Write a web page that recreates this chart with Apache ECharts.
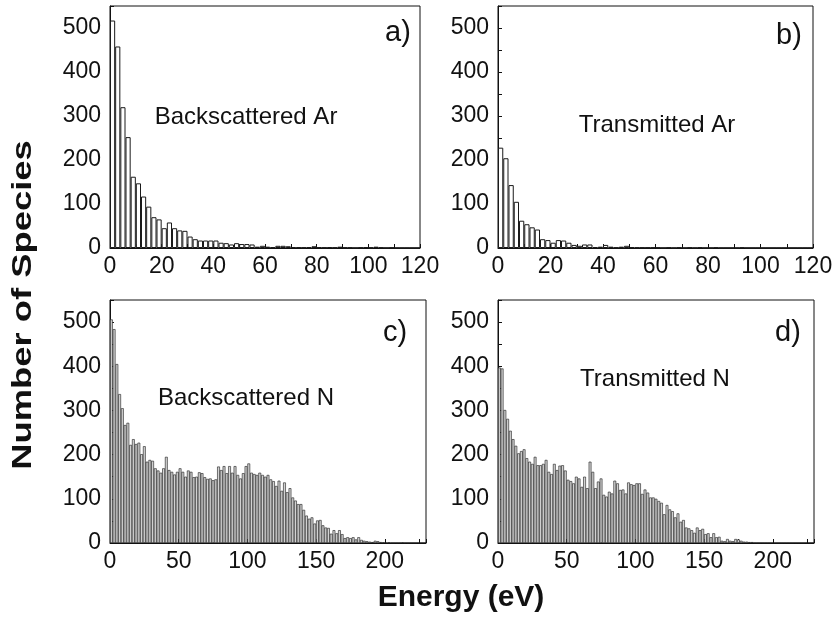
<!DOCTYPE html>
<html>
<head>
<meta charset="utf-8">
<script src="https://cdn.jsdelivr.net/npm/echarts@6/dist/echarts.min.js"></script>
<style>
  html, body { margin: 0; padding: 0; background: #fff; }
  #chart { width: 836px; height: 627px; }
</style>
</head>
<body>
<div id="chart"></div>
<script>
// energy histograms, 2 eV bins starting at 0
const binWidth = 2

const backscatteredAr = [
  517, 458, 320, 252, 162, 147, 117, 94, 70, 65,
  45, 58, 45, 40, 39, 26, 20, 17, 17, 17,
  17, 12, 11, 8, 11, 9, 9, 8, 3, 5,
  3, 2, 5, 5, 4, 2, 2, 1, 2, 4,
  2, 1, 2, 1, 3, 1, 1, 0, 1, 2,
  1, 3, 1, 0, 1, 0, 0, 0, 0, 0
]
const transmittedAr = [
  228, 204, 143, 105, 62, 54, 47, 42, 20, 18,
  12, 18, 17, 12, 7, 5, 8, 8, 2, 3,
  7, 3, 1, 3, 5, 2, 1, 1, 1, 1,
  1, 0, 1, 0, 1, 0, 1, 0, 1, 0,
  0, 1, 0, 0, 0, 0, 1, 0, 0, 0,
  0, 0, 0, 0, 0, 0, 0, 0, 0, 0
]
const backscatteredN = [
  506, 484, 405, 337, 305, 267, 272, 222, 235, 224,
  227, 201, 219, 184, 188, 186, 169, 164, 159, 169,
  195, 165, 161, 155, 161, 169, 161, 150, 164, 161,
  149, 150, 160, 158, 149, 145, 146, 142, 144, 173,
  165, 174, 158, 174, 159, 174, 154, 146, 158, 174,
  180, 159, 156, 154, 159, 154, 150, 154, 144, 140,
  129, 141, 118, 137, 115, 124, 103, 96, 88, 88,
  75, 62, 55, 58, 44, 51, 52, 40, 35, 34,
  21, 29, 22, 29, 20, 11, 13, 11, 13, 8,
  13, 7, 5, 4, 3, 2, 5, 4, 2, 1,
  0, 1, 0, 0, 0, 0, 1, 0, 0, 0,
  0, 0, 0, 0, 0
]
const transmittedN = [
  397, 395, 301, 281, 254, 235, 220, 203, 208, 212,
  192, 184, 179, 195, 176, 176, 179, 188, 161, 156,
  179, 165, 175, 176, 164, 143, 140, 135, 150, 146,
  127, 150, 124, 184, 161, 124, 139, 146, 109, 105,
  116, 112, 141, 135, 120, 121, 112, 137, 133, 131,
  135, 135, 111, 121, 114, 103, 103, 100, 95, 91,
  65, 86, 76, 72, 58, 67, 48, 52, 35, 33,
  29, 23, 35, 29, 32, 20, 22, 13, 22, 13,
  14, 5, 4, 9, 5, 4, 9, 8, 5, 3,
  3, 2, 2, 0, 0, 0, 0, 0, 0, 0,
  0, 0, 0, 0, 0, 0, 0, 0, 0, 0,
  0, 0, 0, 0, 0
]

const panelLabels = ['a)', 'b)', 'c)', 'd)']
const panelNames = ['Backscattered Ar', 'Transmitted Ar', 'Backscattered N', 'Transmitted N']
const yTitle = 'Number of Species'
const xTitle = 'Energy (eV)'

const font = '"Liberation Sans", Arial, sans-serif'
const ink = '#111'

function toPairs(values) {
  return values.map((v, i) => [i * binWidth + binWidth / 2, v])
}

const panels = [
  { data: backscatteredAr, grid: { left: 110, top: 6, width: 310, height: 242 }, xMax: 120, xStep: 10, xLabelStep: 20, fill: '#fff', line: 1 },
  { data: transmittedAr, grid: { left: 498, top: 6, width: 315, height: 242 }, xMax: 120, xStep: 10, xLabelStep: 20, fill: '#fff', line: 1 },
  { data: backscatteredN, grid: { left: 110, top: 300, width: 316, height: 243 }, xMax: 230, xStep: 25, xLabelStep: 50, fill: '#d2d2d2', line: 0.6 },
  { data: transmittedN, grid: { left: 498, top: 300, width: 316, height: 243 }, xMax: 230, xStep: 25, xLabelStep: 50, fill: '#d2d2d2', line: 0.6 }
]

const labelPos = [
  { tag: [398, 33], name: [246, 117] },
  { tag: [789, 36], name: [657, 125] },
  { tag: [395, 333], name: [246, 398] },
  { tag: [788, 333], name: [655, 379] }
]

const chart = echarts.init(document.getElementById('chart'), null, { renderer: 'canvas' })

const axisLine = { show: true, lineStyle: { color: ink, width: 1 } }

const option = {
  backgroundColor: '#fff',
  animation: false,
  grid: panels.map((p) => ({ ...p.grid, show: true, borderColor: ink, borderWidth: 1, backgroundColor: 'transparent', containLabel: false })),
  xAxis: panels.map((p, i) => ({
    type: 'value',
    gridIndex: i,
    min: 0,
    max: p.xMax,
    interval: p.xStep,
    axisLine,
    axisTick: { show: true, inside: true, length: 4, lineStyle: { color: ink } },
    axisLabel: {
      fontSize: 23,
      fontFamily: font,
      color: ink,
      margin: 7,
      formatter: (v) => (v % p.xLabelStep === 0 ? String(v) : '')
    },
    splitLine: { show: false }
  })),
  yAxis: panels.map((p, i) => ({
    type: 'value',
    gridIndex: i,
    min: 0,
    max: 550,
    interval: 50,
    axisLine,
    axisTick: { show: true, inside: true, length: 4, lineStyle: { color: ink } },
    axisLabel: {
      fontSize: 23,
      fontFamily: font,
      color: ink,
      margin: 9,
      formatter: (v) => (v % 100 === 0 ? String(v) : '')
    },
    splitLine: { show: false }
  })),
  series: panels.map((p, i) => ({
    type: 'bar',
    xAxisIndex: i,
    yAxisIndex: i,
    data: toPairs(p.data),
    barCategoryGap: '0%',
    itemStyle: { color: p.fill, borderColor: '#1a1a1a', borderWidth: p.line },
    emphasis: { disabled: true }
  })),
  graphic: [
    ...labelPos.flatMap((pos, i) => [
      { type: 'text', x: pos.tag[0], y: pos.tag[1], style: { text: panelLabels[i], font: '29px ' + font, fill: ink, align: 'center', verticalAlign: 'middle' } },
      { type: 'text', x: pos.name[0], y: pos.name[1], style: { text: panelNames[i], font: '24px ' + font, fill: ink, align: 'center', verticalAlign: 'middle' } }
    ]),
    { type: 'text', x: 23, y: 305, rotation: Math.PI / 2, scaleX: 1.3, style: { text: yTitle, font: 'bold 28px ' + font, fill: ink, align: 'center', verticalAlign: 'middle' } },
    { type: 'text', x: 461, y: 598, style: { text: xTitle, font: 'bold 30px ' + font, fill: ink, align: 'center', verticalAlign: 'middle' } }
  ]
}

chart.setOption(option)
</script>
</body>
</html>
